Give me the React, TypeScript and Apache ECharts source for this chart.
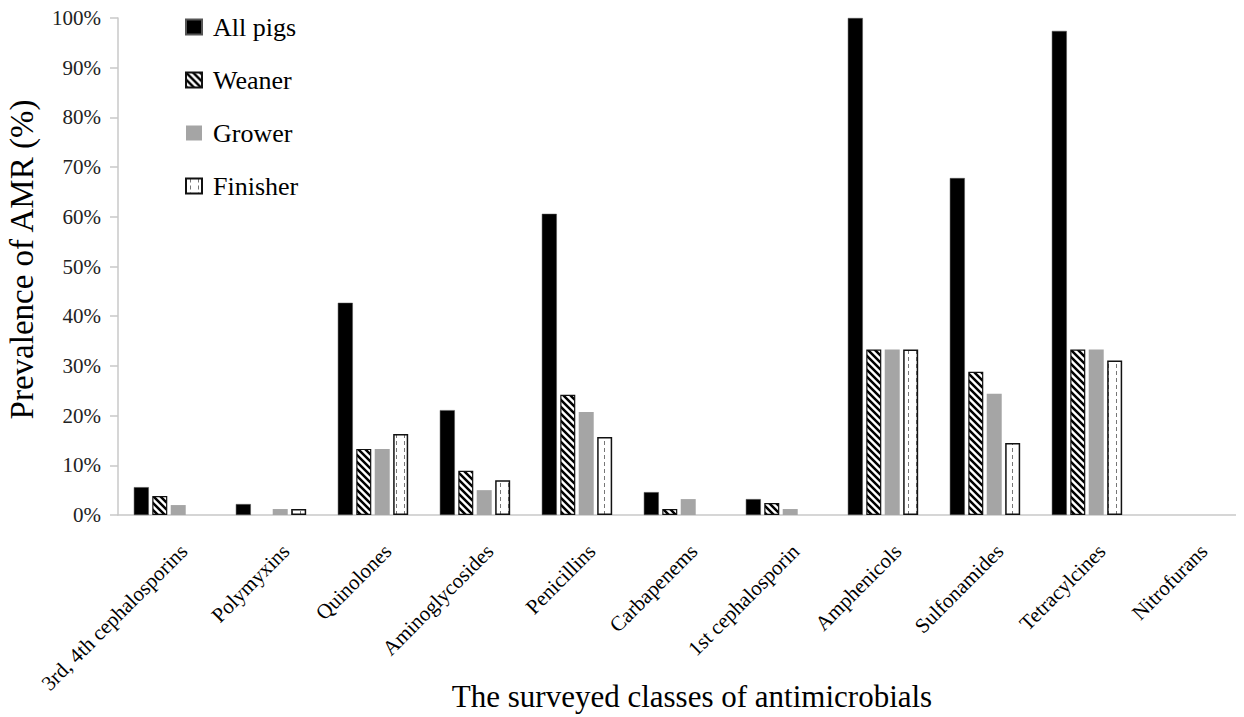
import React, { useEffect, useRef } from "react";
import * as echarts from "echarts";

const categories = [
  "3rd, 4th cephalosporins",
  "Polymyxins",
  "Quinolones",
  "Aminoglycosides",
  "Penicillins",
  "Carbapenems",
  "1st cephalosporin",
  "Amphenicols",
  "Sulfonamides",
  "Tetracylcines",
  "Nitrofurans",
];
const allPigs = [5.6, 2.2, 42.7, 21.1, 60.6, 4.6, 3.2, 100, 67.8, 97.4, 0];
const weaner = [3.8, 0, 13.3, 8.9, 24.2, 1.2, 2.4, 33.3, 28.8, 33.3, 0];
const grower = [2.0, 1.2, 13.3, 5.0, 20.7, 3.2, 1.2, 33.3, 24.4, 33.3, 0];
const finisher = [0, 1.2, 16.3, 7.0, 15.7, 0, 0, 33.3, 14.5, 31.1, 0];
const yTicks = [0, 10, 20, 30, 40, 50, 60, 70, 80, 90, 100];

const FONT = '"Liberation Serif", "Times New Roman", serif';

function svgUrl(svg: string) {
  return "data:image/svg+xml;utf8," + encodeURIComponent(svg);
}

const stripeSvg = `<svg xmlns="http://www.w3.org/2000/svg" width="7" height="7"><rect width="7" height="7" fill="#fff"/><path d="M-1,-1 L8,8 M6,-1 L8,1 M-1,6 L1,8" stroke="#000" stroke-width="2.5"/></svg>`;
const dashSvg = `<svg xmlns="http://www.w3.org/2000/svg" width="8" height="7"><rect width="8" height="7" fill="#fff"/><path d="M4.5,0 L4.5,4" stroke="#777" stroke-width="1"/></svg>`;

const nz = (arr: number[]) => arr.map((v) => (v === 0 ? null : v));

export default function App() {
  const ref = useRef<HTMLDivElement>(null);
  useEffect(() => {
    if (!ref.current) return;
    const chart = echarts.init(ref.current, undefined, { renderer: "svg" });
    const stripe = { image: svgUrl(stripeSvg), repeat: "repeat", imageWidth: 7, imageHeight: 7 };
    const dash = { image: svgUrl(dashSvg), repeat: "repeat", imageWidth: 8, imageHeight: 7 };
    const barW = 15;
    const gap = "23%";
    chart.setOption({
      animation: false,
      backgroundColor: "#fff",
      textStyle: { fontFamily: FONT },
      grid: { left: 118, right: 4, top: 18, bottom: 202, containLabel: false, outerBoundsMode: "none" },
      legend: {
        orient: "vertical",
        left: 185,
        top: 14,
        padding: 0,
        icon: "rect",
        itemWidth: 16,
        itemHeight: 15,
        itemGap: 27,
        textStyle: { fontFamily: FONT, fontSize: 26, color: "#000", padding: [0, 0, 0, 6] },
        data: ["All pigs", "Weaner", "Grower", "Finisher"],
      },
      xAxis: {
        type: "category",
        data: categories,
        name: "The surveyed classes of antimicrobials",
        nameLocation: "middle",
        nameGap: 166,
        nameMoveOverlap: false,
        nameTextStyle: { fontFamily: FONT, fontSize: 31, color: "#000", padding: [0, 0, 0, 26] },
        axisLine: { lineStyle: { color: "#c8c8c8", width: 1.5 } },
        axisTick: { show: false },
        axisLabel: {
          interval: 0,
          rotate: 45,
          fontFamily: FONT,
          fontSize: 21,
          color: "#000",
          margin: 18,
          lineHeight: 42,
          verticalAlign: "top",
        },
      },
      yAxis: {
        type: "value",
        min: 0,
        max: 100,
        interval: 10,
        name: "Prevalence of AMR (%)",
        nameLocation: "middle",
        nameGap: 80,
        nameMoveOverlap: false,
        nameTextStyle: { fontFamily: FONT, fontSize: 33, color: "#000", padding: [0, 0, 0, 14] },
        axisLine: { show: true, lineStyle: { color: "#c8c8c8", width: 1.5 } },
        axisTick: { show: true, length: 8, inside: false, lineStyle: { color: "#c8c8c8", width: 1.5 } },
        splitLine: { show: false },
        axisLabel: {
          fontFamily: FONT,
          fontSize: 21,
          color: "#222",
          margin: 17,
          formatter: (v: number) => (yTicks.includes(v) ? v + "%" : ""),
        },
      },
      series: [
        {
          name: "All pigs",
          type: "bar",
          data: nz(allPigs),
          barWidth: barW,
          barGap: gap,
          itemStyle: { color: "#000", borderColor: "#555", borderWidth: 0.5 },
        },
        {
          name: "Weaner",
          type: "bar",
          data: nz(weaner),
          barWidth: barW,
          barGap: gap,
          itemStyle: { color: stripe, borderColor: "#111", borderWidth: 1.2 },
        },
        {
          name: "Grower",
          type: "bar",
          data: nz(grower),
          barWidth: barW,
          barGap: gap,
          itemStyle: { color: "#a5a5a5" },
        },
        {
          name: "Finisher",
          type: "bar",
          data: nz(finisher),
          barWidth: barW,
          barGap: gap,
          itemStyle: { color: dash, borderColor: "#111", borderWidth: 1.5 },
        },
      ],
    });
    return () => chart.dispose();
  }, []);
  return <div ref={ref} style={{ width: 1244, height: 717, marginLeft: -8, marginTop: -8 }} />;
}
